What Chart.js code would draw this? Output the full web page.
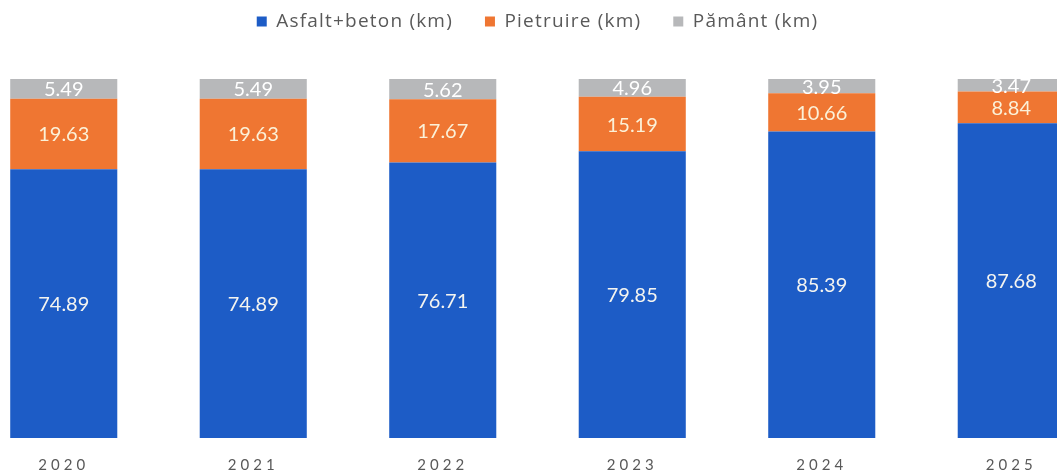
<!DOCTYPE html>
<html>
<head>
<meta charset="utf-8">
<script src="https://cdn.jsdelivr.net/npm/chart.js@4"></script>
<style>
  html, body { margin: 0; padding: 0; background: #fff; overflow: hidden; }
  #wrap { position: absolute; left: -31px; top: 0; width: 1137px; height: 484px; }
</style>
</head>
<body>
<div id="wrap"><canvas id="chart"></canvas></div>
<script>
const years = ["2020", "2021", "2022", "2023", "2024", "2025"];
const asfalt = [74.89, 74.89, 76.71, 79.85, 85.39, 87.68];
const pietruire = [19.63, 19.63, 17.67, 15.19, 10.66, 8.84];
const pamant = [5.49, 5.49, 5.62, 4.96, 3.95, 3.47];

// draws the value in the middle of every segment
const valueLabels = {
  id: "valueLabels",
  afterDatasetsDraw(chart) {
    const ctx = chart.ctx;
    ctx.save();
    ctx.textAlign = "center";
    ctx.textBaseline = "middle";
    chart.data.datasets.forEach((ds, i) => {
      const meta = chart.getDatasetMeta(i);
      meta.data.forEach((bar, j) => {
        const y = (bar.y + bar.base) / 2;
        ctx.font = "20px Lato";
        ctx.fillStyle = ds.labelColor;
        ctx.fillText(ds.data[j].toFixed(2), bar.x, y + 1);
      });
    });
    ctx.restore();
  },
};

// letter spaced legend + more room under it
const legendStyle = {
  id: "legendStyle",
  beforeInit(chart) {
    const lg = chart.legend;
    const fit = lg.fit.bind(lg);
    const draw = lg.draw.bind(lg);
    lg.fit = function () {
      chart.ctx.save();
      chart.ctx.letterSpacing = "1.2px";
      fit();
      chart.ctx.restore();
      this.height += 38;
    };
    lg.draw = function () {
      chart.ctx.save();
      chart.ctx.letterSpacing = "1.2px";
      draw();
      chart.ctx.restore();
    };
  },
};

// spaced out year labels
const spacedTicks = {
  id: "spacedTicks",
  afterLayout(chart) {
    const s = chart.scales.x;
    if (s._spaced) return;
    const orig = s.drawLabels.bind(s);
    s.drawLabels = function (area) {
      chart.ctx.save();
      chart.ctx.letterSpacing = "4px";
      orig(area);
      chart.ctx.restore();
    };
    s._spaced = true;
  },
};

const ctx = document.getElementById("chart").getContext("2d");
new Chart(ctx, {
  type: "bar",
  data: {
    labels: years,
    datasets: [
      {
        label: "Asfalt+beton (km)",
        data: asfalt,
        backgroundColor: "#1d5cc6",
        labelColor: "#f4f4f0",
      },
      {
        label: "Pietruire (km)",
        data: pietruire,
        backgroundColor: "#ef7632",
        labelColor: "#fbf1d8",
      },
      {
        label: "Pământ (km)",
        data: pamant,
        backgroundColor: "#b7b8ba",
        labelColor: "#ffffff",
      },
    ],
  },
  options: {
    responsive: true,
    maintainAspectRatio: false,
    animation: false,
    barPercentage: 0.565,
    categoryPercentage: 1,
    layout: { padding: { top: -20, bottom: 0, left: 0, right: 0 } },
    scales: {
      x: {
        stacked: true,
        grid: { display: false },
        border: { display: false },
        ticks: { color: "#595959", font: { family: "Lato", size: 15 }, padding: 10 },
      },
      y: {
        stacked: true,
        display: false,
        min: 0,
        max: 100,
      },
    },
    plugins: {
      legend: {
        position: "top",
        labels: {
          boxWidth: 10,
          boxHeight: 10,
          color: "#595959",
          font: { family: "Open Sans", size: 19 },
          padding: 32,
        },
      },
      tooltip: { enabled: false },
    },
  },
  plugins: [valueLabels, legendStyle, spacedTicks],
});
</script>
</body>
</html>
